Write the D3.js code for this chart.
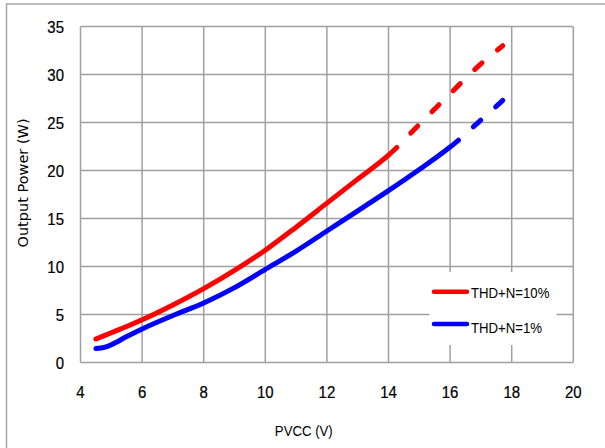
<!DOCTYPE html>
<html>
<head>
<meta charset="utf-8">
<script src="https://cdn.jsdelivr.net/npm/d3@7/dist/d3.min.js"></script>
<style>
  html, body { margin: 0; padding: 0; background: #fff; }
  svg { display: block; }
</style>
</head>
<body>
<svg id="chart" width="605" height="448"></svg>
<script>
// ---- data ----
const xTicks = [4, 6, 8, 10, 12, 14, 16, 18, 20];
const yTicks = [0, 5, 10, 15, 20, 25, 30, 35];

const redSolidX = [4.5, 5, 5.5, 6, 7, 8, 9, 10, 11, 12, 13, 14, 14.27];
const redSolidY = [2.45, 3.1, 3.75, 4.45, 6.0, 7.7, 9.6, 11.7, 14.1, 16.6, 19.1, 21.6, 22.4];
const redDashX = [14.27, 15, 16, 17, 17.71];
const redDashY = [22.4, 24.8, 28.0, 31.1, 33.0];

const blueSolidX = [4.5, 4.8, 5, 5.5, 6, 7, 8, 9, 10, 11, 12, 13, 14, 15, 16, 16.27];
const blueSolidY = [1.45, 1.6, 1.85, 2.7, 3.5, 4.9, 6.2, 7.8, 9.7, 11.6, 13.7, 15.8, 17.9, 20.1, 22.45, 23.15];
const blueDashX = [16.27, 17, 17.71];
const blueDashY = [23.15, 25.25, 27.3];

const legendLabels = ["THD+N=10%", "THD+N=1%"];
const seriesColors = ["#ff0000", "#0000ff"];
const xTitle = "PVCC (V)";
const yTitle = "Output Power (W)";

// ---- layout ----
const svg = d3.select("#chart");
const x = d3.scaleLinear().domain([4, 20]).range([80.5, 573.3]);
const y = d3.scaleLinear().domain([0, 35]).range([362.5, 26.5]);
const gridColor = "#a0a0a0";

// outer frame
svg.append("rect")
  .attr("x", 6.5).attr("y", 4).attr("width", 700).attr("height", 500)
  .attr("fill", "none").attr("stroke", "#a6a6a6").attr("stroke-width", 1.5);

// gridlines
const grid = svg.append("g");
grid.selectAll(".vg").data(xTicks).enter().append("line")
  .attr("x1", d => x(d)).attr("x2", d => x(d))
  .attr("y1", y(35)).attr("y2", y(0))
  .attr("stroke", gridColor).attr("stroke-width", 1.5);
grid.selectAll(".hg").data(yTicks).enter().append("line")
  .attr("x1", x(4)).attr("x2", x(20))
  .attr("y1", d => y(d)).attr("y2", d => y(d))
  .attr("stroke", gridColor).attr("stroke-width", 1.5);

// tick labels
const tickFont = "'Liberation Sans', Arial, sans-serif";
svg.append("g").selectAll("text").data(yTicks).enter().append("text")
  .attr("transform", d => `translate(64,${y(d) + 6}) scale(0.88,1)`)
  .attr("text-anchor", "end")
  .attr("font-family", tickFont).attr("font-size", 17).attr("fill", "#000")
  .attr("stroke", "#000").attr("stroke-width", 0.25)
  .text(d => d);
svg.append("g").selectAll("text").data(xTicks).enter().append("text")
  .attr("transform", d => `translate(${x(d)},397.5) scale(0.88,1)`)
  .attr("text-anchor", "middle")
  .attr("font-family", tickFont).attr("font-size", 17).attr("fill", "#000")
  .attr("stroke", "#000").attr("stroke-width", 0.25)
  .text(d => d);

// axis titles
svg.append("text")
  .attr("transform", "translate(303.8,435.5) scale(0.88,1)")
  .attr("text-anchor", "middle")
  .attr("font-family", tickFont).attr("font-size", 15).attr("fill", "#000")
  .text(xTitle);
svg.append("text")
  .attr("transform", "translate(28,183) rotate(-90)")
  .attr("text-anchor", "middle")
  .attr("font-family", "'DejaVu Sans', Verdana, sans-serif").attr("font-size", 14.5).attr("fill", "#000")
  .text(yTitle);

// lines
const line = d3.line().x(d => x(d[0])).y(d => y(d[1])).curve(d3.curveMonotoneX);
const zip = (a, b) => a.map((v, i) => [v, b[i]]);
const series = [
  { solid: zip(redSolidX, redSolidY), dash: zip(redDashX, redDashY), color: seriesColors[0] },
  { solid: zip(blueSolidX, blueSolidY), dash: zip(blueDashX, blueDashY), color: seriesColors[1] }
];
const lg = svg.append("g");
series.forEach(s => {
  lg.append("path").attr("d", line(s.solid))
    .attr("fill", "none").attr("stroke", s.color).attr("stroke-width", 5)
    .attr("stroke-linecap", "round").attr("stroke-linejoin", "round");
  lg.append("path").attr("d", line(s.dash))
    .attr("fill", "none").attr("stroke", s.color).attr("stroke-width", 5)
    .attr("stroke-linecap", "round")
    .attr("stroke-dasharray", "10,20").attr("stroke-dashoffset", 10);
});

// legend
const leg = svg.append("g");
leg.append("rect").attr("x", 429.5).attr("y", 272).attr("width", 127).attr("height", 73).attr("fill", "#fff");
const legY = [291.7, 324];
const legBase = [298, 332.5];
legendLabels.forEach((lab, i) => {
  leg.append("line").attr("x1", 434).attr("x2", 467).attr("y1", legY[i]).attr("y2", legY[i])
    .attr("stroke", seriesColors[i]).attr("stroke-width", 4.5).attr("stroke-linecap", "round");
  leg.append("text")
    .attr("transform", `translate(471,${legBase[i]}) scale(0.88,1)`)
    .attr("font-family", tickFont).attr("font-size", 15).attr("fill", "#000")
    .text(lab);
});
</script>
</body>
</html>
